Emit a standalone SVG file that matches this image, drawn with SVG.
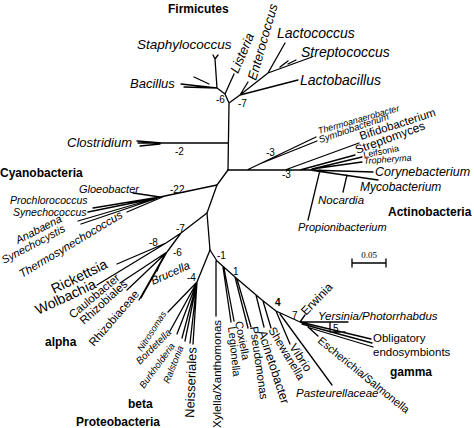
<svg xmlns="http://www.w3.org/2000/svg" width="474" height="428" viewBox="0 0 474 428">
<style>
text{font-family:"Liberation Sans",Arial,Helvetica,sans-serif;fill:#000}
.i{font-style:italic}
.b{font-weight:bold;font-size:12px}
.n{font-size:10px}
.s11{font-size:11px}
.s12{font-size:12px}
.s13{font-size:13px}
.s14{font-size:14px}
.s9{font-size:9px}
#connectors path{stroke:#000;stroke-width:1.3;fill:none;stroke-linecap:round;stroke-linejoin:round}
</style>
<rect width="474" height="428" fill="#fff"/>
<g id="connectors">
<!-- Firmicutes -->
<path d="M228,170 L229,103 L225,94 L217,88 M225,94 L234,74 M217,88 L215,59 M213,55 L215,59 L218,55 M217,88 L181,84 M217,88 L184,87 M209,84 L194,77 M229,103 L240,95 L248,82 M240,95 L298,80 M240,95 L268,73 L285,43 M268,73 L312,57 M280,67 L288,61 M288,64 L296,60"/>
<!-- Clostridium -->
<path d="M228,143 L138,143 M162,143 L137,141 M160,144 L140,146"/>
<!-- Actinobacteria -->
<path d="M228,170 L308,170 L373,172 M247,170 L316,137 M262,163 L317,141 M285,170 L359,143 M300,170 L355,155 M312,169 L362,157 M312,169 L362,162 M310,170 L378,180 M347,175 L343,192 M320,170 L308,220"/>
<!-- trunk down -->
<path d="M228,170 L217,185 L207,213 L210,250"/>
<!-- Cyanobacteria -->
<path d="M217,185 L160,197 L133,193 M160,197 L93,208 M157,198 L88,212 M160,197 L78,221 M155,199 L81,224 M165,196 L127,212"/>
<!-- alpha -->
<path d="M207,213 L181,233 L166,243 L117,264 M166,243 L97,285 M181,233 L167,252 L120,283 M167,252 L127,290 M167,252 L141,298 M164,256 L139,300 M160,264 L157,271"/>
<!-- beta -->
<path d="M210,250 L197,282 L168,312 M197,282 L170,331 M197,282 L177,334 M197,282 L182,338 M197,282 L185,341 M197,282 L190,343 M197,282 L193,344"/>
<!-- gamma -->
<path d="M210,250 L217,261 L235,277 L262,300 L276,311 L300,322 L371,339 M216,261 L216,316 M223,267 L231,322 M224,268 L234,321 M235,277 L248,328 M237,279 L251,327 M256,295 L264,327 M263,301 L271,328 M276,311 L290,344 M280,314 L332,385 M300,322 L305,315 M300,322 L348,322 M330,322 L330,332 L345,332 M302,324 L372,343 M310,328 L373,347 M308,327 L318,336"/>
<!-- scale -->
<path d="M352,263 L386,263 M352,259 L352,267 M386,259 L386,267"/>
</g>

<g id="groups">
<text class="b" x="168" y="13">Firmicutes</text>
<text class="b" x="0" y="177">Cyanobacteria</text>
<text class="b" x="388" y="216">Actinobacteria</text>
<text class="b" x="45" y="346">alpha</text>
<text class="b" x="128" y="408">beta</text>
<text class="b" x="390" y="376">gamma</text>
<text class="b" x="76" y="426">Proteobacteria</text>
</g>

<g id="scale-bar"><text x="369" y="258" text-anchor="middle" style="font-family:'Liberation Serif',serif;font-size:9px">0.05</text></g>

<g id="support-values">
<text class="n" x="216" y="103">-6</text>
<text class="n" x="238" y="107">-7</text>
<text class="n" x="175" y="155">-2</text>
<text class="n" x="266" y="156">-3</text>
<text class="n" x="282" y="178">-3</text>
<text class="n" x="170" y="193">-22</text>
<text class="n" x="176" y="232">-7</text>
<text class="n" x="149" y="246">-8</text>
<text class="n" x="173" y="256">-6</text>
<text class="n" x="187" y="281">-4</text>
<text class="n" x="217" y="259">-1</text>
<text class="n" x="233" y="275">1</text>
<text class="n" x="275" y="306" style="font-weight:bold">4</text>
<text class="n" x="292" y="319">7</text>
<text class="n" x="333" y="332">5</text>
</g>

<!-- Firmicutes taxa -->
<g id="staphylococcus"><text class="i s13" x="137" y="49" style="font-size:13.5px">Staphylococcus</text></g>
<g id="bacillus"><text class="i s13" x="130" y="88">Bacillus</text></g>
<g id="listeria"><text class="i s13" transform="translate(238,74) rotate(-67)">Listeria</text></g>
<g id="enterococcus"><text class="i s13" transform="translate(256,81) rotate(-74)">Enterococcus</text></g>
<g id="lactococcus"><text class="i s14" x="277" y="38">Lactococcus</text></g>
<g id="streptococcus"><text class="i s14" x="301" y="57">Streptococcus</text></g>
<g id="lactobacillus"><text class="i s14" x="300" y="85">Lactobacillus</text></g>
<g id="clostridium"><text class="i s13" x="67" y="147">Clostridium</text></g>

<!-- Actinobacteria taxa -->
<g id="thermoanaerobacter"><text class="i s9" transform="translate(319,134) rotate(-16)">Thermoanaerobacter</text></g>
<g id="symbiobacterium"><text class="i" style="font-size:9.5px" transform="translate(320,143) rotate(-19)">Symbiobacterium</text></g>
<g id="bifidobacterium"><text style="font-size:11.5px" transform="translate(361,140) rotate(-18)">Bifidobacterium</text></g>
<g id="streptomyces"><text class="s12" transform="translate(357,154) rotate(-20)">Streptomyces</text></g>
<g id="leifsonia"><text class="s9" transform="translate(364,158) rotate(-11)">Leifsonia</text></g>
<g id="tropheryma"><text class="i s9" transform="translate(364,164) rotate(-4)">Tropheryma</text></g>
<g id="corynebacterium"><text class="i" style="font-size:12.5px" x="375" y="176">Corynebacterium</text></g>
<g id="mycobacterium"><text class="i s12" x="360" y="191">Mycobacterium</text></g>
<g id="nocardia"><text class="i" style="font-size:11.5px" x="318" y="204">Nocardia</text></g>
<g id="propionibacterium"><text class="i s11" x="298" y="231">Propionibacterium</text></g>

<!-- Cyanobacteria taxa -->
<g id="gloeobacter"><text class="i s11" x="79" y="193">Gloeobacter</text></g>
<g id="prochlorococcus"><text class="i" style="font-size:10.5px" x="10" y="204">Prochlorococcus</text></g>
<g id="synechococcus"><text class="i" style="font-size:10.5px" x="13" y="216">Synechococcus</text></g>
<g id="anabaena"><text class="i s11" transform="translate(18,244) rotate(-27)">Anabaena</text></g>
<g id="synechocystis"><text class="i s11" transform="translate(4,264) rotate(-28)">Synechocystis</text></g>
<g id="thermosynechococcus"><text class="i" style="font-size:11.5px" transform="translate(22,278) rotate(-31)">Thermosynechococcus</text></g>

<!-- alpha taxa -->
<g id="rickettsia"><text class="s14" transform="translate(54,294) rotate(-26)">Rickettsia</text></g>
<g id="wolbachia"><text class="s14" transform="translate(38,315) rotate(-25)">Wolbachia</text></g>
<g id="caulobacter"><text style="font-size:11.5px" transform="translate(73,319) rotate(-40)">Caulobacter</text></g>
<g id="rhizobiales"><text style="font-size:11.5px" transform="translate(84,325) rotate(-42)">Rhizobiales</text></g>
<g id="rhizobiaceae"><text style="font-size:11.5px" transform="translate(94,347) rotate(-49)">Rhizobiaceae</text></g>
<g id="brucella"><text class="i" style="font-size:11.5px" transform="translate(153,285) rotate(-24)">Brucella</text></g>

<!-- beta taxa -->
<g id="nitrosomas"><text class="i s9" transform="translate(142,352) rotate(-57)">Nitrosomas</text></g>
<g id="bordetella"><text class="i n" transform="translate(140,365) rotate(-45)">Bordetella</text></g>
<g id="burkholderia"><text class="i" style="font-size:9.5px" transform="translate(144,389) rotate(-54)">Burkholderia</text></g>
<g id="ralstonia"><text class="i" style="font-size:9.5px" transform="translate(169,384) rotate(-68)">Ralstonia</text></g>
<g id="neisseriales"><text class="s13" transform="translate(194,418) rotate(-88)">Neisseriales</text></g>

<!-- gamma taxa -->
<g id="xylella"><text style="font-size:11.5px" transform="translate(221,428) rotate(-90)">Xylella/Xanthomonas</text></g>
<g id="legionella"><text class="s11" transform="translate(228,327) rotate(84)">Legionella</text></g>
<g id="coxiella"><text class="s11" transform="translate(235,322) rotate(79)">Coxiella</text></g>
<g id="pseudomonas"><text style="font-size:11.5px" transform="translate(250,327) rotate(82)">Pseudomonas</text></g>
<g id="acinetobacter"><text style="font-size:12.5px" transform="translate(258,332) rotate(72)">Acinetobacter</text></g>
<g id="shewanella"><text style="font-size:11.5px" transform="translate(268,330) rotate(59)">Shewanella</text></g>
<g id="vibrio"><text class="s12" transform="translate(289,347) rotate(57)">Vibrio</text></g>
<g id="pasteurellaceae"><text class="i" style="font-size:11.5px" x="296" y="397">Pasteurellaceae</text></g>
<g id="escherichia"><text class="s11" transform="translate(317,342) rotate(39)">Escherichia/Salmonella</text></g>
<g id="erwinia"><text class="s12" transform="translate(306,316) rotate(-46)">Erwinia</text></g>
<g id="yersinia"><text class="i" style="font-size:11.5px" x="318" y="320">Yersinia/Photorrhabdus</text></g>
<g id="endosymbionts"><text style="font-size:11.5px" x="373" y="342">Obligatory</text><text style="font-size:11.5px" x="373" y="356">endosymbionts</text></g>
</svg>
